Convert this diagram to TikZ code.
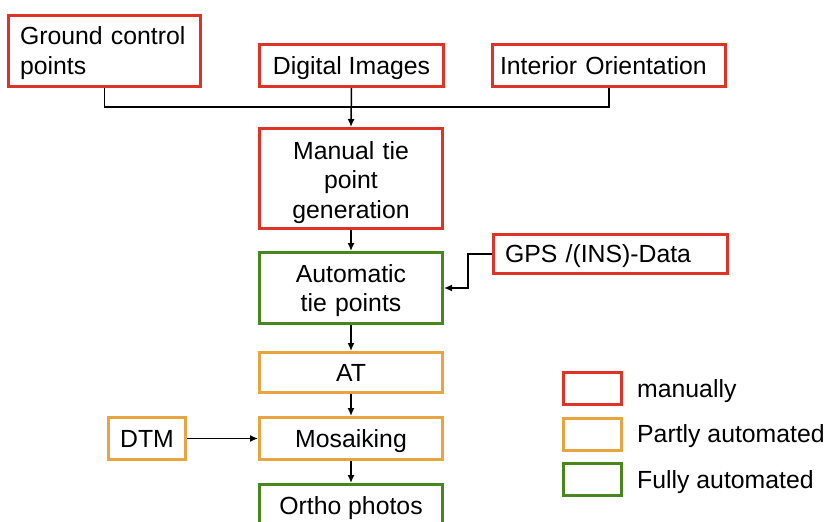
\documentclass[tikz,border=0pt]{standalone}
\usepackage{fontspec}
\setmainfont{Liberation Sans}
\usepackage{xcolor}
\usetikzlibrary{arrows.meta}

\definecolor{manred}{RGB}{221,52,38}
\definecolor{partorange}{RGB}{232,164,64}
\definecolor{fullgreen}{RGB}{74,134,30}

\newcommand{\boxstrut}{\rule[-5.3pt]{0pt}{27.7pt}}

\begin{document}
\begin{tikzpicture}[x=1pt,y=-1pt,
    txt/.style={font=\fontsize{24.8}{29.5}\selectfont,execute at begin node=\boxstrut,execute at end node=\boxstrut},
    topstrut/.style={execute at begin node=\rule{0pt}{#1}},
    box/.style={txt,draw,line width=3pt,fill=white,inner sep=0pt,align=center},
    manbox/.style={box,draw=manred},
    partbox/.style={box,draw=partorange},
    fullbox/.style={box,draw=fullgreen},
    link/.style={line width=1.5pt},
    arr/.style={line width=1.5pt,-{Latex[length=8pt,width=7pt]}}]
            \useasboundingbox (0,0) rectangle (831,522);
            \clip (0,0) rectangle (831,522);

            \node[manbox,minimum width=192pt,minimum height=71pt,text width=169pt,align=left] (gcp) at (104.5,51) {Ground control\\points};
            \node[manbox,minimum width=184pt,minimum height=42pt] (digi) at (351.5,65.5) {Digital Images};
            \node[manbox,minimum width=233pt,minimum height=42pt,text width=218pt,align=left] (inter) at (609,65.5) {Interior Orientation};

            \node[manbox,topstrut=26pt,minimum width=183pt,minimum height=100pt,text width=169pt] (manual) at (351,178.5) {Manual tie\\point\\generation};
            \node[fullbox,topstrut=23pt,minimum width=183pt,minimum height=71pt,text width=169pt] (auto) at (351,288) {Automatic\\tie points};
            \node[manbox,minimum width=234pt,minimum height=39pt,text width=211pt,align=left] (gps) at (610.5,254) {GPS /(INS)-Data};
            \node[partbox,minimum width=183pt,minimum height=40pt] (at) at (351,372.5) {AT};
            \node[partbox,minimum width=183pt,minimum height=42pt] (mosa) at (351,438.5) {Mosaiking};
            \node[partbox,minimum width=77pt,minimum height=42pt] (dtm) at (147,438.5) {DTM};
            \node[fullbox,minimum width=183pt,minimum height=42pt] (ortho) at (351,505.5) {Ortho photos};

            % inputs
            \draw[link] (gcp.south) |- (inter.south |- 0,107) -- (inter.south);
            \draw[arr] (digi.south) -- (manual.north);
            \draw[arr] (manual.south) -- (auto.north);
            \draw[arr] (gps.west) -- ++(-24,0) |- (auto.east);
            \draw[arr] (auto.south) -- (at.north);
            \draw[arr] (at.south) -- (mosa.north);
            \draw[arr] (dtm.east) -- (mosa.west);
            \draw[arr] (mosa.south) -- (ortho.north);

            % legend
            \node[manbox,minimum width=58pt,minimum height=32pt] (lman) at (592.5,388.5) {};
            \node[partbox,minimum width=58pt,minimum height=32pt] (lpart) at (592.5,434) {};
            \node[fullbox,minimum width=58pt,minimum height=32pt] (lfull) at (592.5,479.5) {};
            \node[txt,anchor=west,inner sep=0pt] (tman) at (637,388.5) {manually};
            \node[txt,anchor=west,inner sep=0pt] (tpart) at (637,434) {Partly automated};
            \node[txt,anchor=west,inner sep=0pt] (tfull) at (637,480) {Fully automated};
\end{tikzpicture}
\end{document}
